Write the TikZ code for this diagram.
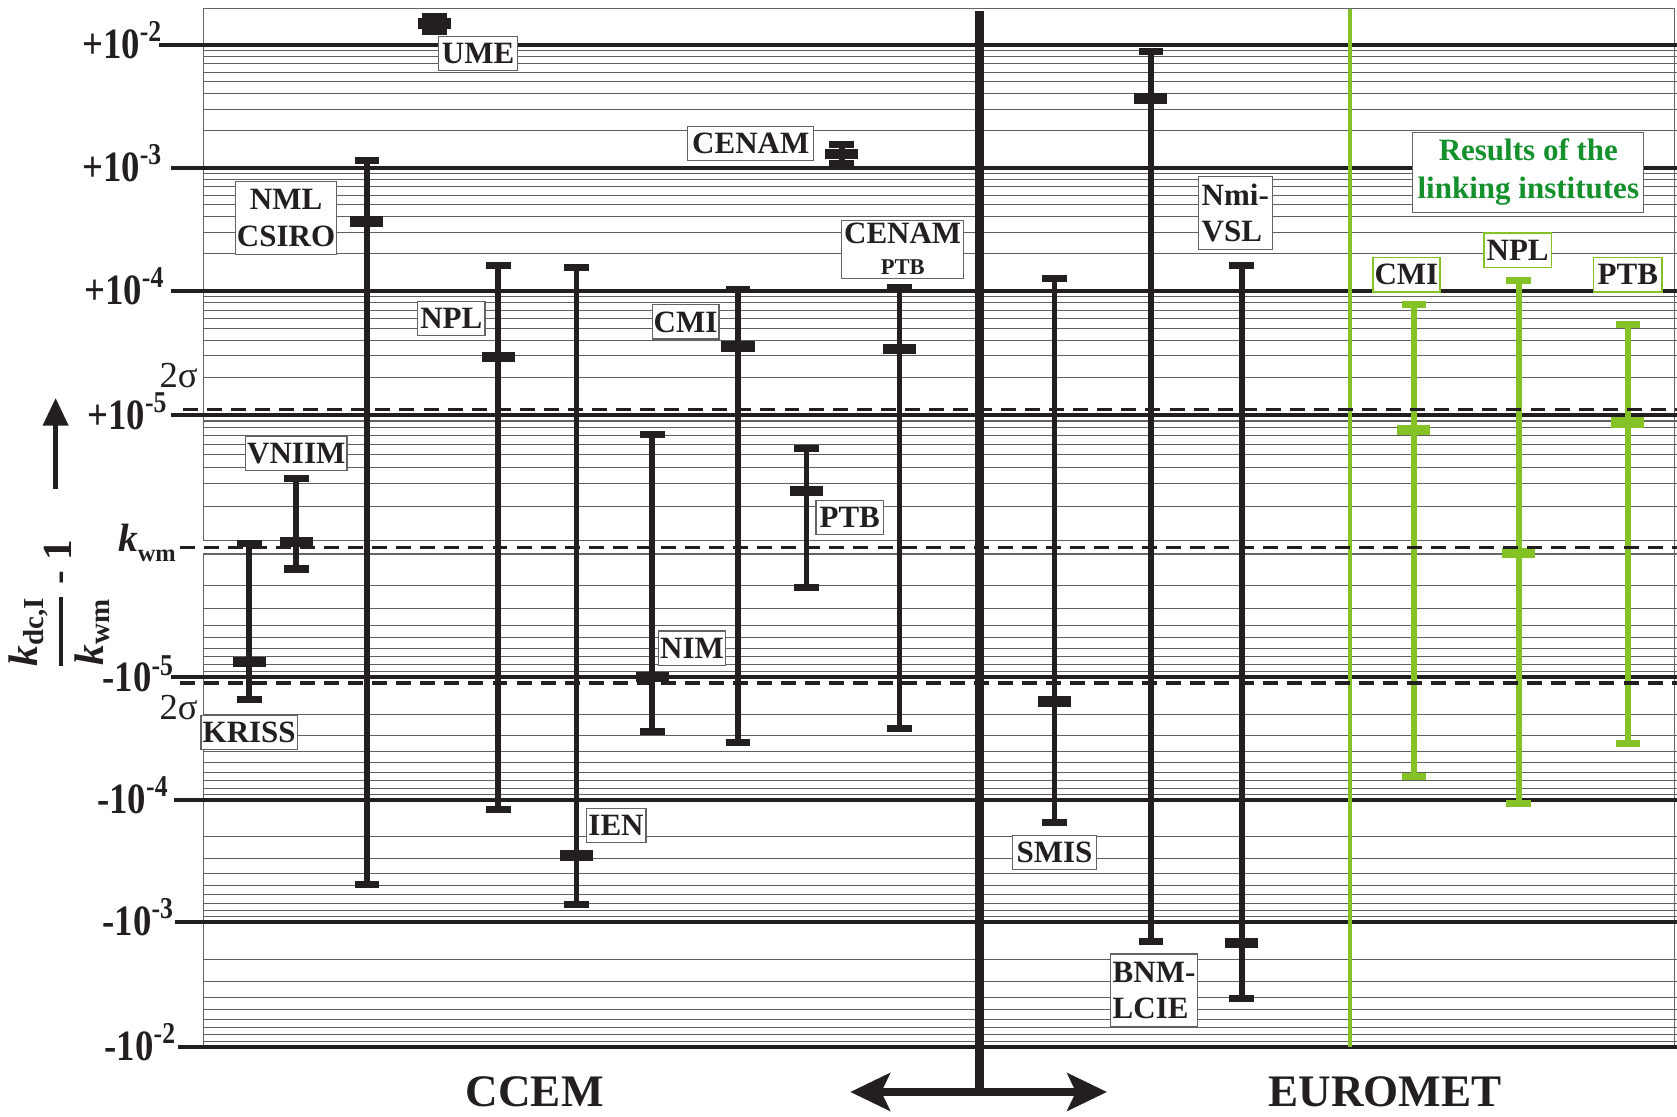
\documentclass[tikz,border=0pt]{standalone}
\usepackage{fontspec}
\usepackage{amsmath}
\setmainfont{Liberation Serif}
\newfontfamily\tickfont[FakeStretch=0.85]{Liberation Serif}
\usetikzlibrary{arrows.meta}
\definecolor{inkblack}{RGB}{35, 31, 32}
\definecolor{rulegray}{RGB}{95, 95, 95}
\definecolor{boxgray}{RGB}{100, 100, 100}
\definecolor{linkgreen}{RGB}{132, 194, 38}
\definecolor{resultgreen}{RGB}{20, 145, 45}
\newcommand{\drawbar}[5]{%
  \draw[line width=3.1pt, #1] (#2,#3) -- (#2,#5);
  \fill[#1] (#2-11.5,#3-3.3) rectangle (#2+11.5,#3+3.3);
  \fill[#1] (#2-11.5,#5-3.3) rectangle (#2+11.5,#5+3.3);
  \fill[#1] (#2-15.5,#4-4.8) rectangle (#2+15.5,#4+4.8);}
\tikzset{
  gridline/.style={rulegray, line width=0.55pt},
  decadeline/.style={inkblack, line width=2.1pt},
  sigmaline/.style={inkblack, line width=1.8pt, dash pattern=on 2.8mm off 1.7mm},
  frameline/.style={boxgray, line width=0.6pt},
  instbox/.style={draw=boxgray, fill=white, line width=0.6pt, inner xsep=0.3mm, inner ysep=0.4mm,
                  minimum height=6.4mm, text=inkblack, font=\fontsize{16.5}{19.5}\selectfont\bfseries},
  linkbox/.style={instbox, draw=linkgreen, line width=0.8pt},
  ticklabel/.style={anchor=base east, inner sep=0pt, text=inkblack, font=\tickfont\fontsize{23}{23}\selectfont\bfseries},
  sigmalabel/.style={inner sep=0pt, text=inkblack, font=\fontsize{19.5}{19.5}\selectfont},
  grouplabel/.style={inner sep=0pt, text=inkblack, font=\fontsize{24}{24}\selectfont\bfseries}
}

\begin{document}
\begin{tikzpicture}[x=0.2mm, y=-0.2mm]
  \useasboundingbox (0,0) rectangle (1568,1044);
  \foreach \T/\B in {42/157, 157/272, 272/388, 388/511}
    \foreach \k in {2,...,9}
      \draw[gridline] (190,{\B-log10(\k)*(\B-\T)}) -- (1568,{\B-log10(\k)*(\B-\T)});
  \foreach \T/\B in {511/633, 633/748, 748/862, 862/979}
    \foreach \k in {2,...,9}
      \draw[gridline] (190,{\T+log10(\k)*(\B-\T)}) -- (1568,{\T+log10(\k)*(\B-\T)});
  \draw[frameline] (190,505) -- (190,8) -- (1566,8) -- (1566,979);
  \draw[frameline] (190,505) -- (1568,505);
  \draw[frameline] (190,979) -- (190,518) -- (1568,518);
  \foreach \xs/\y in {149/42, 160/157, 160/272, 160/388, 160/633, 163/748, 164/862, 166/979}
    \draw[decadeline] (\xs,\y) -- (1568,\y);

  \node[ticklabel] (tickpa) at (152, 55)  {+10\textsuperscript{-2}};
  \node[ticklabel] (tickpb) at (152,170)  {+10\textsuperscript{-3}};
  \node[ticklabel] (tickpc) at (154,285)  {+10\textsuperscript{-4}};
  \node[ticklabel] (tickpd) at (157,402)  {+10\textsuperscript{-5}};
  \node[ticklabel] (tickmd) at (163,647)  {-10\textsuperscript{-5}};
  \node[ticklabel] (tickmc) at (158,761)  {-10\textsuperscript{-4}};
  \node[ticklabel] (tickmb) at (163,875)  {-10\textsuperscript{-3}};
  \node[ticklabel] (tickma) at (165,992)  {-10\textsuperscript{-2}};

  \draw[linkgreen, line width=2pt] (1262,8) -- (1262,979);
  \coordinate (splitleft)  at (795,1021);
  \coordinate (splitright) at (1035,1021);
  \draw[inkblack, line width=4.5pt] (916,10) -- (916,1021);
  \draw[inkblack, line width=4.5pt, {Stealth[length=7.4mm, width=7mm, inset=1.6mm]}-{Stealth[length=7.4mm, width=7mm, inset=1.6mm]}] (splitleft) -- (splitright);

  \foreach \px/\ptop/\pval/\pbot in {233/508/619/654, 277/447/507/532, 343/150/207/827, 466/248/334/757,
                                   539/250/800/846, 610/406/633/684, 690/271/324/694, 754/419/459/549,
                                   841/269/326/681, 986/260/656/769, 1076/48/92/880, 1161/248/882/934,
                                   406/15/22/29, 787/135/144/153}
    {\drawbar{inkblack}{\px}{\ptop}{\pval}{\pbot}}
  \foreach \px/\ptop/\pval/\pbot in {1322/285/402/726, 1420/262/517/751, 1522/303/395/695}
    {\drawbar{linkgreen}{\px}{\ptop}{\pval}{\pbot}}

  \draw[sigmaline] (171,383) -- (1568,383);
  \draw[sigmaline] (168,512) -- (1568,512);
  \draw[sigmaline] (168,638.5) -- (1568,638.5);

  \node[instbox, minimum width=14.8mm] (ume)      at (447, 50)  {UME};
  \node[instbox, minimum width=23.6mm] (cenam)    at (702,134)  {CENAM};
  \node[instbox, minimum width=18.6mm, minimum height=13.6mm, align=center] (nml) at (267.5,204) {NML\\CSIRO};
  \node[instbox, minimum width=17.2mm] (vniim)    at (277,424)  {VNIIM};
  \node[instbox, minimum width=16.4mm] (kriss)    at (233,685)  {KRISS};
  \node[instbox, minimum width=12.6mm] (npl)      at (422,298)  {NPL};
  \node[instbox, minimum width=11.2mm] (ien)      at (576,772)  {IEN};
  \node[instbox, minimum width=12.0mm] (nim)      at (647,606)  {NIM};
  \node[instbox, minimum width=11.2mm] (cmi)      at (641,301)  {CMI};
  \node[instbox, minimum width=12.6mm] (ptb)      at (794.5,484) {PTB};
  \node[instbox, minimum width=22.8mm, minimum height=10.8mm, align=center] (cenamptb) at (844,233)
       {CENAM\\[-3pt]{\fontsize{12}{13}\selectfont PTB}};
  \node[instbox, minimum width=15.6mm] (smis)     at (986,797)  {SMIS};
  \node[instbox, minimum width=16.4mm, minimum height=13.6mm, align=left] (bnm) at (1079,926) {BNM-\\LCIE};
  \node[instbox, minimum width=13.8mm, minimum height=13.6mm, align=left] (nmivsl) at (1155,199) {Nmi-\\VSL};
  \node[instbox, minimum width=43.2mm, minimum height=15mm, align=center, text=resultgreen,
        font=\fontsize{16.5}{20.5}\selectfont\bfseries] (results) at (1429,161) {Results of the\\linking institutes};
  \node[linkbox, minimum width=11.8mm] (linkcmi)  at (1315,257) {CMI};
  \node[linkbox, minimum width=12.6mm] (linknpl)  at (1419,234) {NPL};
  \node[linkbox, minimum width=12.8mm] (linkptb)  at (1522,257) {PTB};

  \node[sigmalabel] (sigmaup)   at (167,351) {2σ};
  \node[sigmalabel] (sigmadown) at (167,662) {2σ};
  \node[anchor=base west, inner sep=0pt, text=inkblack, font=\fontsize{21}{21}\selectfont\bfseries] (kwm) at (110,516)
       {\itshape k\upshape\raisebox{-5pt}{\fontsize{13}{13}\selectfont wm}};
  \node[rotate=90, inner sep=0pt, text=inkblack, font=\fontsize{22}{26}\selectfont\bfseries] (ratio) at (55,565)
       {$\genfrac{}{}{2pt}{0}{\text{\bfseries\itshape k}_{\text{\bfseries dc,I}}}{\text{\bfseries\itshape k}_{\text{\bfseries wm}}}$ - 1};
  \coordinate (arrowfoot) at (52,457);
  \coordinate (arrowtip)  at (52,372);
  \draw[inkblack, line width=2.8pt, -{Triangle[length=5.2mm, width=4.6mm]}] (arrowfoot) -- (arrowtip);

  \node[grouplabel] (ccem)    at (500,1021)  {CCEM};
  \node[grouplabel] (euromet) at (1295,1021) {EUROMET};
\end{tikzpicture}
\end{document}
